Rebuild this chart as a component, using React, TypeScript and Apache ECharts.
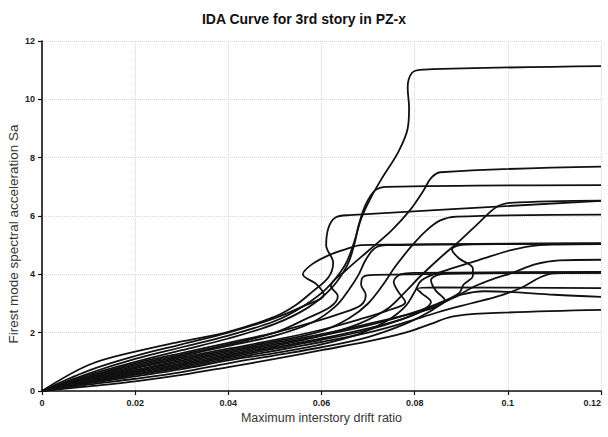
import React, { useEffect, useRef } from "react";
import * as echarts from "echarts";

const title = "IDA Curve for 3rd story in PZ-x";
const xName = "Maximum interstory drift ratio";
const yName = "Firest mode spectral acceleration Sa";
const xTicks = [0, 0.02, 0.04, 0.06, 0.08, 0.1, 0.12];
const yTicks = [0, 2, 4, 6, 8, 10, 12];

// IDA curves: [drift ratio, Sa]
const c1 = [[0,0],[0.01,0.6],[0.02,1.1],[0.03,1.5],[0.04,1.9],[0.05,2.4],[0.056,2.9],[0.061,3.5],[0.065,4.3],[0.067,5.1],[0.0685,5.9],[0.0705,6.6],[0.073,7.3],[0.0765,8.2],[0.0785,9.0],[0.0788,9.7],[0.0785,10.4],[0.0795,10.92],[0.082,11.02],[0.12,11.14]];
const c2 = [[0,0],[0.01,0.48],[0.02,0.9],[0.03,1.25],[0.04,1.6],[0.05,2.0],[0.057,2.5],[0.062,2.9],[0.0635,3.25],[0.062,3.6],[0.065,4.1],[0.07,4.8],[0.075,5.5],[0.079,6.2],[0.082,6.9],[0.0835,7.3],[0.0855,7.5],[0.12,7.69]];
const c3 = [[0,0],[0.01,0.55],[0.02,1.0],[0.03,1.4],[0.04,1.8],[0.05,2.3],[0.057,2.85],[0.062,3.5],[0.0655,4.3],[0.067,5.0],[0.068,5.7],[0.0695,6.4],[0.0715,6.88],[0.074,7.0],[0.12,7.06]];
const c4 = [[0,0],[0.01,0.89],[0.02,1.35],[0.03,1.7],[0.04,2.03],[0.05,2.55],[0.0545,2.95],[0.058,3.4],[0.0615,3.9],[0.0625,4.4],[0.061,5.0],[0.0615,5.6],[0.063,5.95],[0.066,6.03],[0.12,6.52]];
const c5 = [[0,0],[0.01,0.34],[0.02,0.66],[0.03,0.95],[0.04,1.25],[0.05,1.55],[0.06,1.9],[0.068,2.3],[0.074,2.8],[0.078,3.4],[0.081,3.9],[0.085,4.5],[0.09,5.2],[0.094,5.8],[0.0975,6.3],[0.1005,6.45],[0.12,6.53]];
const c6 = [[0,0],[0.01,0.4],[0.02,0.78],[0.03,1.1],[0.04,1.4],[0.05,1.7],[0.06,2.05],[0.066,2.5],[0.07,3.0],[0.073,3.6],[0.076,4.3],[0.0795,5.0],[0.0825,5.5],[0.0855,5.85],[0.089,5.98],[0.12,6.05]];
const c7 = [[0,0],[0.01,0.45],[0.02,0.85],[0.03,1.2],[0.04,1.55],[0.05,1.9],[0.058,2.35],[0.063,2.9],[0.066,3.5],[0.068,4.0],[0.0695,4.5],[0.0715,4.9],[0.074,5.0],[0.12,5.06]];
const c8 = [[0,0],[0.01,0.26],[0.02,0.5],[0.03,0.75],[0.04,1.05],[0.05,1.3],[0.06,1.6],[0.068,1.95],[0.074,2.4],[0.078,2.9],[0.08,3.4],[0.0815,3.8],[0.086,4.1],[0.093,4.45],[0.1,4.8],[0.105,4.97],[0.11,5.02],[0.12,5.04]];
const c9 = [[0,0],[0.01,0.3],[0.02,0.58],[0.03,0.85],[0.04,1.15],[0.05,1.45],[0.06,1.75],[0.07,2.1],[0.078,2.5],[0.084,2.9],[0.089,3.25],[0.093,3.6],[0.097,3.85],[0.101,4.05],[0.106,4.35],[0.111,4.48],[0.12,4.5]];
const c10 = [[0,0],[0.01,0.5],[0.02,0.95],[0.03,1.3],[0.04,1.65],[0.05,2.0],[0.058,2.35],[0.064,2.65],[0.0685,2.95],[0.0695,3.3],[0.0685,3.65],[0.069,3.92],[0.0715,3.98],[0.12,4.07]];
const c11 = [[0,0],[0.01,0.7],[0.02,1.2],[0.03,1.6],[0.04,2.0],[0.05,2.5],[0.056,2.9],[0.0605,3.3],[0.059,3.65],[0.056,4.0],[0.058,4.35],[0.0615,4.65],[0.065,4.85],[0.0685,5.0],[0.075,5.02],[0.12,5.05]];
const c12 = [[0,0],[0.01,0.42],[0.02,0.8],[0.03,1.15],[0.04,1.45],[0.05,1.75],[0.06,2.1],[0.068,2.45],[0.074,2.75],[0.078,3.05],[0.0765,3.4],[0.0755,3.75],[0.077,4.0],[0.08,4.05],[0.12,4.08]];
const c13 = [[0,0],[0.01,0.38],[0.02,0.72],[0.03,1.05],[0.04,1.35],[0.05,1.65],[0.06,1.95],[0.07,2.3],[0.078,2.6],[0.084,2.85],[0.0865,3.1],[0.0845,3.45],[0.0835,3.8],[0.0855,4.0],[0.09,4.05],[0.12,4.05]];
const c14 = [[0,0],[0.01,0.32],[0.02,0.62],[0.03,0.9],[0.04,1.2],[0.05,1.5],[0.06,1.8],[0.07,2.15],[0.077,2.45],[0.0815,2.75],[0.0835,3.05],[0.0815,3.35],[0.0805,3.5],[0.085,3.55],[0.12,3.53]];
const c15 = [[0,0],[0.01,0.22],[0.02,0.42],[0.03,0.65],[0.04,0.95],[0.05,1.22],[0.06,1.5],[0.07,1.85],[0.078,2.3],[0.083,2.7],[0.0865,3.05],[0.09,3.3],[0.095,3.42],[0.1,3.4],[0.11,3.3],[0.12,3.23]];
const c16 = [[0,0],[0.01,0.36],[0.02,0.7],[0.03,1.0],[0.04,1.3],[0.05,1.6],[0.06,1.9],[0.07,2.25],[0.078,2.6],[0.085,3.0],[0.0895,3.35],[0.0905,3.65],[0.0925,3.95],[0.0925,4.2],[0.0895,4.55],[0.088,4.85],[0.0905,5.02],[0.12,5.06]];
const c17 = [[0,0],[0.01,0.16],[0.02,0.33],[0.03,0.55],[0.04,0.82],[0.05,1.1],[0.06,1.4],[0.07,1.7],[0.078,2.0],[0.0835,2.3],[0.088,2.55],[0.095,2.66],[0.12,2.78]];
const c18 = [[0,0],[0.01,0.28],[0.02,0.55],[0.03,0.8],[0.04,1.1],[0.05,1.38],[0.06,1.68],[0.07,2.0],[0.078,2.35],[0.085,2.7],[0.092,3.0],[0.098,3.25],[0.103,3.55],[0.107,3.9],[0.11,4.03],[0.12,4.06]];

const curves = [c1, c2, c3, c4, c5, c6, c7, c8, c9, c10, c11, c12, c13, c14, c15, c16, c17, c18];

const FONT = "'Liberation Sans', Arial, Helvetica, sans-serif";

export default function App() {
  const ref = useRef<HTMLDivElement>(null);
  useEffect(() => {
    if (!ref.current) return;
    const chart = echarts.init(ref.current, null, { renderer: "svg" });
    const fmt = (v: number) => String(+v.toFixed(2));
    chart.setOption({
      animation: false,
      backgroundColor: "#ffffff",
      title: {
        text: title,
        left: "center",
        top: 7,
        textStyle: { fontFamily: FONT, fontSize: 14, fontWeight: "bold", color: "#111" },
      },
      graphic: [
        {
          type: "text",
          x: 13,
          y: 234,
          rotation: Math.PI / 2,
          style: {
            text: yName,
            fontFamily: FONT,
            fontSize: 13.5,
            fill: "#333",
            align: "center",
            verticalAlign: "middle",
          },
        },
      ],
      grid: { left: 42, right: 7, top: 41, bottom: 46, containLabel: false, outerBoundsMode: "none" },
      xAxis: {
        type: "value",
        min: xTicks[0],
        max: xTicks[xTicks.length - 1],
        interval: 0.02,
        name: xName,
        nameLocation: "middle",
        nameGap: 14,
        nameTextStyle: { fontFamily: FONT, fontSize: 12.5, color: "#333" },
        axisLine: { show: true, onZero: false, lineStyle: { color: "#111", width: 1.6 } },
        axisTick: { show: true, inside: false, length: 4, lineStyle: { color: "#111", width: 1.2 } },
        axisLabel: { formatter: fmt, fontFamily: FONT, fontSize: 9, fontWeight: "bold", color: "#222", margin: 7, alignMaxLabel: "right" },
        splitLine: { show: true, lineStyle: { color: "#d8d8d8", type: "dotted", width: 1 } },
      },
      yAxis: {
        type: "value",
        min: yTicks[0],
        max: yTicks[yTicks.length - 1],
        interval: 2,
        axisLine: { show: true, onZero: false, lineStyle: { color: "#111", width: 1.6 } },
        axisTick: { show: true, inside: false, length: 4, lineStyle: { color: "#111", width: 1.2 } },
        axisLabel: { fontFamily: FONT, fontSize: 9, fontWeight: "bold", color: "#222", margin: 7 },
        splitLine: { show: true, lineStyle: { color: "#d8d8d8", type: "dotted", width: 1 } },
      },
      series: curves.map((c, i) => ({
        type: "line",
        name: "GM" + (i + 1),
        data: c,
        smooth: 0.35,
        symbol: "none",
        lineStyle: { color: "#111", width: 1.8 },
        emphasis: { disabled: true },
      })),
    });
    return () => chart.dispose();
  }, []);
  return <div ref={ref} style={{ position: "fixed", left: 0, top: 0, width: 608, height: 437 }} />;
}
